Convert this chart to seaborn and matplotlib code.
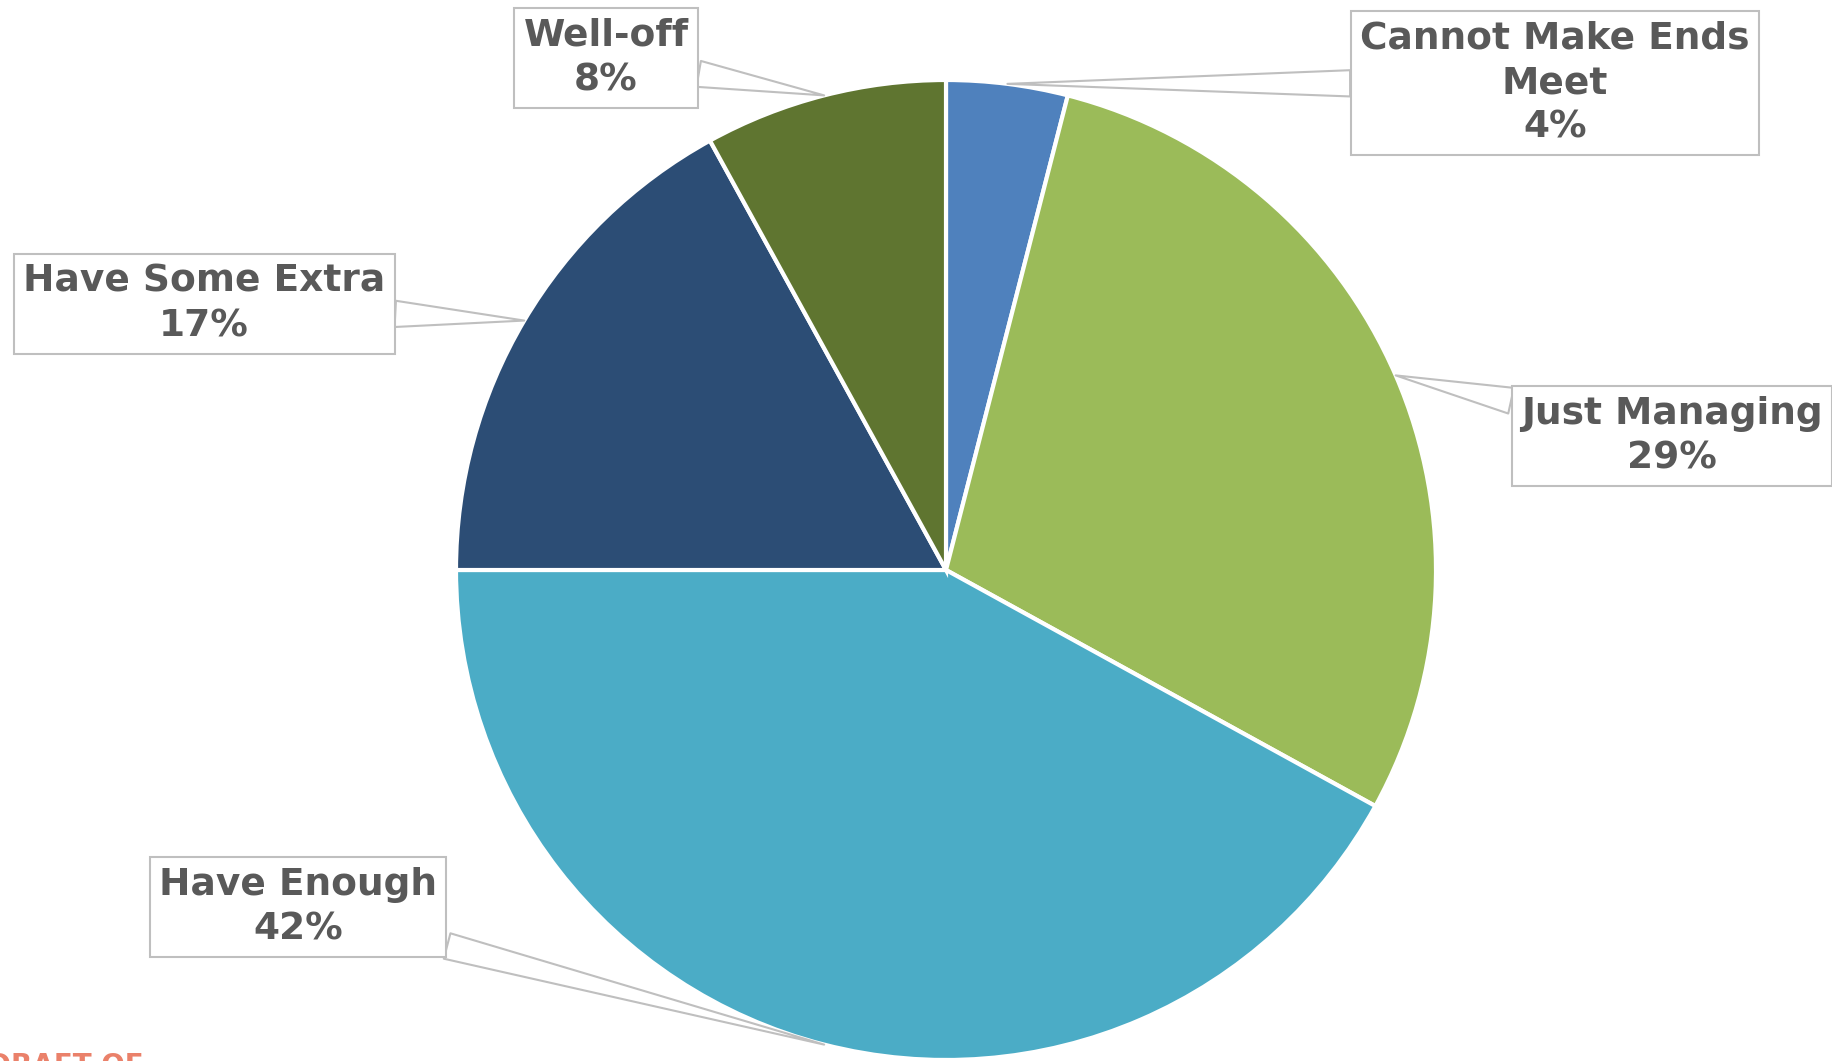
import numpy as np
import matplotlib
matplotlib.use("Agg")
import matplotlib.pyplot as plt
import seaborn as sns

# data
labels = ["Cannot Make Ends\nMeet", "Just Managing", "Have Enough", "Have Some Extra", "Well-off"]
shares = [4, 29, 42, 17, 8]
colors = ["#4F81BD", "#9BBB59", "#4BACC6", "#2C4D75", "#5F7530"]
# label centres, pixels from top-left of the figure
label_pos = [(1555, 83), (1672, 436), (298, 907), (204, 304), (606, 58)]

sns.set_theme(style="white")
plt.rcParams['font.family'] = ['DejaVu Sans']

W, H = 1832, 1061
fig = plt.figure(figsize=(W / 100, H / 100), dpi=100)
fig.patch.set_facecolor("white")

# pie centre and radius in pixels
cx, cy, r = 946, 570, 490
ax = fig.add_axes([(cx - r) / W, (H - cy - r) / H, 2 * r / W, 2 * r / H])
wedges, _ = ax.pie(shares, colors=sns.color_palette(colors), startangle=90, counterclock=False,
                   wedgeprops=dict(edgecolor="white", linewidth=3))
ax.set_xlim(-1, 1)
ax.set_ylim(-1, 1)

for w, lab, val, (px, py) in zip(wedges, labels, shares, label_pos):
    mid = np.deg2rad((w.theta1 + w.theta2) / 2)
    ax.annotate(f"{lab}\n{val}%", xy=(np.cos(mid), np.sin(mid)), xycoords="data",
                xytext=(px, H - py), textcoords="figure pixels",
                ha="center", va="center", fontsize=27, fontweight="bold",
                color="#595959", linespacing=1.3, annotation_clip=False,
                bbox=dict(boxstyle="square,pad=0.25", fc="white", ec="#BFBFBF", lw=1.5),
                arrowprops=dict(arrowstyle="wedge,tail_width=0.7,shrink_factor=0.5",
                                fc="white", ec="#BFBFBF", lw=1.5, shrinkA=0, shrinkB=0))

# clipped watermark at the bottom-left
fig.text(-12 / W, 9 / H, "DRAFT OF", ha="left", va="top", fontsize=20,
         fontweight="bold", color="#E8735A", alpha=0.9)

fig.savefig("out.png", dpi=100)
